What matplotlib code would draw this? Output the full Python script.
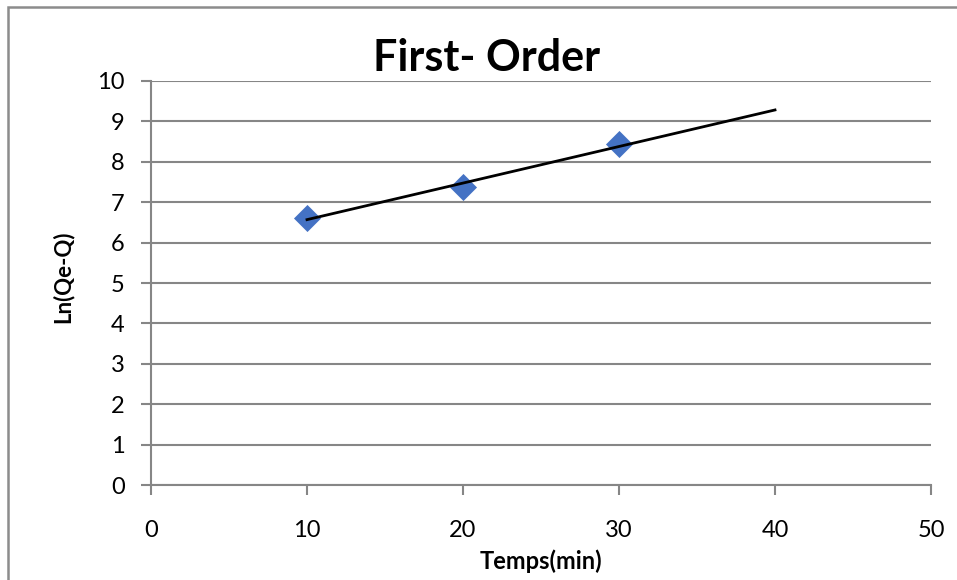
import matplotlib
matplotlib.use("Agg")
import matplotlib.pyplot as plt
from matplotlib.patches import Rectangle
import numpy as np

plt.rcParams['font.family'] = ['Lato', 'DejaVu Sans']

# Kinetic data
temps = [10, 20, 30]
ln_qe_q = [6.62, 7.37, 8.43]

x_ticks = [0, 10, 20, 30, 40, 50]
y_ticks = list(range(0, 11))

W, H = 957, 580
fig = plt.figure(figsize=(W / 100, H / 100), dpi=100)
ax = fig.add_axes([151 / W, 95 / H, 780 / W, 404 / H])

grid_color = '#868686'

# Outer chart frame
fig.patches.append(Rectangle((8 / W, -0.05), 1.1, (H - 7) / H + 0.05,
                             transform=fig.transFigure, fill=False,
                             edgecolor='#8c8c8c', linewidth=1.8, zorder=0))

ax.set_xlim(0, 50)
ax.set_ylim(0, 10)
ax.set_xticks(x_ticks)
ax.set_yticks(y_ticks)

ax.grid(axis='y', color=grid_color, linewidth=1.5)
ax.set_axisbelow(True)
for side in ('top', 'right'):
    ax.spines[side].set_visible(False)
for side in ('left', 'bottom'):
    ax.spines[side].set_color(grid_color)
    ax.spines[side].set_linewidth(1.5)

ax.tick_params(axis='both', colors=grid_color, width=1.5, length=7,
               labelcolor='black', labelsize=17)
ax.tick_params(axis='x', pad=18)
ax.tick_params(axis='y', pad=12)

# Linear trend, forecast 10 units forward
coef = np.polyfit(temps, ln_qe_q, 1)
xt = np.array([min(temps), max(temps) + 10])
ax.plot(xt, np.polyval(coef, xt), color='black', linewidth=2, zorder=4)

ax.scatter(temps, ln_qe_q, marker='D', s=190, color='#4472C4', zorder=3,
           linewidths=0)

fig.text(487 / W, 1 - 58 / H, 'First- Order', fontsize=31, fontweight='bold',
         ha='center', va='center')
ax.set_xlabel('Temps(min)', fontsize=17, fontweight='bold', labelpad=6)
ax.set_ylabel('Ln(Qe-Q)', fontsize=16, fontweight='bold')
ax.yaxis.set_label_coords((63 - 151) / 780, (485 - 277) / 404)
ax.yaxis.label.set_va('center')

fig.savefig('out.png', dpi=100)
